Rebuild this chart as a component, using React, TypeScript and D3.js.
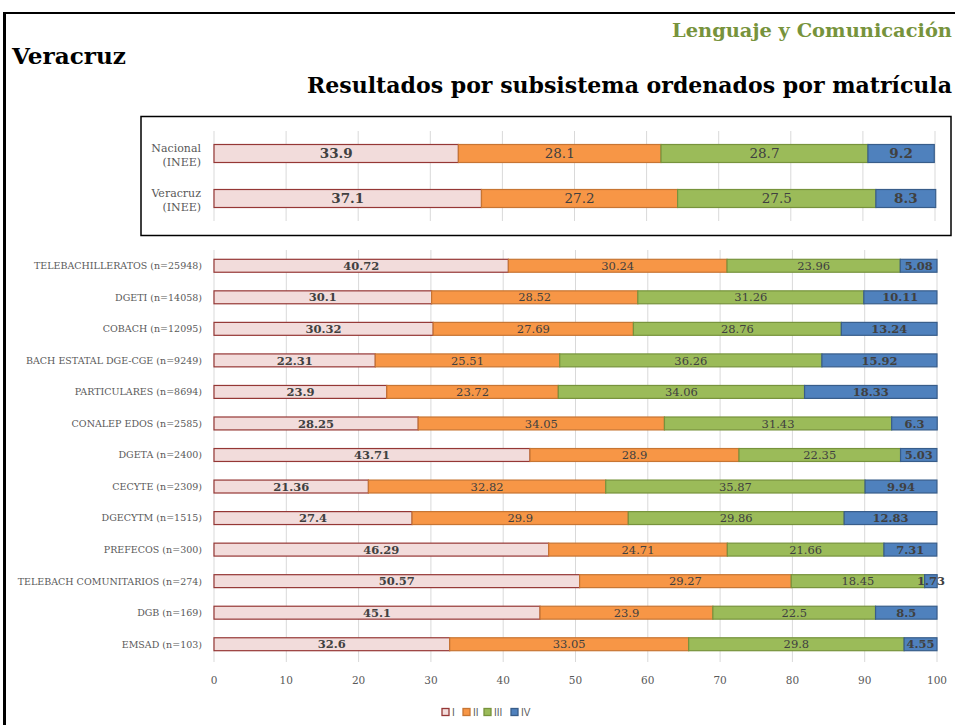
import React from 'react'
import * as d3 from 'd3'

// series / levels
const levels = ['I', 'II', 'III', 'IV']
const fills = ['#f2dcdb', '#f79646', '#9bbb59', '#4f81bd']
const strokes = ['#953735', '#c77533', '#77933c', '#385d8a']
const boldLevel = [true, false, false, true]

// reference box (INEE)
const refLabels = [['Nacional', '(INEE)'], ['Veracruz', '(INEE)']]
const refValues = [
  [33.9, 28.1, 28.7, 9.2],
  [37.1, 27.2, 27.5, 8.3],
]

// subsystems, ordered by enrolment
const subsystems = [
  'TELEBACHILLERATOS (n=25948)',
  'DGETI (n=14058)',
  'COBACH (n=12095)',
  'BACH ESTATAL DGE-CGE (n=9249)',
  'PARTICULARES (n=8694)',
  'CONALEP EDOS (n=2585)',
  'DGETA (n=2400)',
  'CECYTE (n=2309)',
  'DGECYTM (n=1515)',
  'PREFECOS (n=300)',
  'TELEBACH COMUNITARIOS (n=274)',
  'DGB (n=169)',
  'EMSAD (n=103)',
]
const subValues = [
  [40.72, 30.24, 23.96, 5.08],
  [30.1, 28.52, 31.26, 10.11],
  [30.32, 27.69, 28.76, 13.24],
  [22.31, 25.51, 36.26, 15.92],
  [23.9, 23.72, 34.06, 18.33],
  [28.25, 34.05, 31.43, 6.3],
  [43.71, 28.9, 22.35, 5.03],
  [21.36, 32.82, 35.87, 9.94],
  [27.4, 29.9, 29.86, 12.83],
  [46.29, 24.71, 21.66, 7.31],
  [50.57, 29.27, 18.45, 1.73],
  [45.1, 23.9, 22.5, 8.5],
  [32.6, 33.05, 29.8, 4.55],
]
const xTicks = [0, 10, 20, 30, 40, 50, 60, 70, 80, 90, 100]

const serif = '"DejaVu Serif", serif'
const grey = '#595959'
const dark = '#404040'

function stackRow(vals: number[]) {
  let acc = 0
  return vals.map((v) => {
    const x0 = acc
    acc += v
    return [x0, acc]
  })
}

function Bars({ rows, x, y, fontSize }: {
  rows: number[][]
  x: d3.ScaleLinear<number, number>
  y: d3.ScaleBand<string>
  fontSize: number
}) {
  const keys = y.domain()
  return (
    <g>
      {rows.map((vals, i) => {
        const segs = stackRow(vals)
        const y0 = y(keys[i])!
        const h = y.bandwidth()
        return (
          <g key={i}>
            {segs.map(([a, b], j) => (
              <rect key={j} x={x(a)} y={y0} width={x(b) - x(a)} height={h}
                fill={fills[j]} stroke={strokes[j]} strokeWidth={1.2} />
            ))}
            {segs.map(([a, b], j) => (
              <text key={'t' + j} x={(x(a) + x(b)) / 2} y={y0 + h / 2 + fontSize * 0.36}
                textAnchor="middle" fontFamily={serif} fontSize={fontSize}
                fontWeight={boldLevel[j] ? 'bold' : 'normal'} fill={dark}>
                {vals[j]}
              </text>
            ))}
          </g>
        )
      })}
    </g>
  )
}

export default function App() {
  // top reference box
  const xTop = d3.scaleLinear().domain([0, 100]).range([214, 935])
  const yTop = d3.scaleBand<string>().domain(refLabels.map((d) => d.join(' ')))
    .range([131, 221]).paddingInner(0.6).paddingOuter(0.3)

  // main chart
  const x = d3.scaleLinear().domain([0, 100]).range([214, 937])
  const y = d3.scaleBand<string>().domain(subsystems)
    .range([250, 660]).paddingInner(0.59).paddingOuter(0.295)

  return (
    <svg width={955} height={725} style={{ position: 'absolute', left: 0, top: 0, background: '#fff' }}>
      {/* frame */}
      <line x1={4.5} y1={12} x2={4.5} y2={725} stroke="#000" strokeWidth={3} />
      <line x1={3} y1={13} x2={955} y2={13} stroke="#000" strokeWidth={2} />

      <text x={952} y={37} textAnchor="end" fontFamily={serif} fontWeight="bold" fontSize={18}
        fill="#77933c" textLength={280} lengthAdjust="spacingAndGlyphs">Lenguaje y Comunicación</text>
      <text x={12} y={64} fontFamily={serif} fontWeight="bold" fontSize={22}
        fill="#000" textLength={114} lengthAdjust="spacingAndGlyphs">Veracruz</text>
      <text x={952} y={93} textAnchor="end" fontFamily={serif} fontWeight="bold" fontSize={22}
        fill="#000" textLength={645} lengthAdjust="spacingAndGlyphs">Resultados por subsistema ordenados por matrícula</text>

      {/* reference box */}
      <rect x={141} y={116.5} width={810} height={119} fill="#fff" stroke="#000" strokeWidth={1.5} />
      {xTicks.map((t) => (
        <line key={t} x1={xTop(t)} x2={xTop(t)} y1={131} y2={221} stroke="#d9d9d9" strokeWidth={1} />
      ))}
      {refLabels.map((lines, i) => {
        const cy = yTop(lines.join(' '))! + yTop.bandwidth() / 2
        return (
          <text key={i} x={201} y={cy - 2} textAnchor="end" fontFamily={serif} fontSize={11} fill={grey}>
            <tspan x={201} dy={0}>{lines[0]}</tspan>
            <tspan x={201} dy={14}>{lines[1]}</tspan>
          </text>
        )
      })}
      <Bars rows={refValues} x={xTop} y={yTop} fontSize={13.5} />

      {/* main chart */}
      {xTicks.map((t) => (
        <g key={t}>
          <line x1={x(t)} x2={x(t)} y1={250} y2={662} stroke="#d9d9d9" strokeWidth={1} />
          <text x={x(t)} y={684} textAnchor="middle" fontFamily={serif} fontSize={10.5} fill={grey}>{t}</text>
        </g>
      ))}
      {subsystems.map((s) => (
        <text key={s} x={202} y={y(s)! + y.bandwidth() / 2 + 3.4} textAnchor="end"
          fontFamily={serif} fontSize={9.5} fill={grey}>{s}</text>
      ))}
      <Bars rows={subValues} x={x} y={y} fontSize={11.5} />

      {/* legend */}
      {levels.map((l, i) => {
        const lx = [442, 463, 484, 511][i]
        return (
          <g key={l}>
            <rect x={lx} y={708.5} width={7} height={7} fill={fills[i]} stroke={strokes[i]} strokeWidth={1.3} />
            <text x={lx + 10} y={716} fontFamily='"Liberation Sans", sans-serif' fontSize={10} fill={grey}>{l}</text>
          </g>
        )
      })}
    </svg>
  )
}
